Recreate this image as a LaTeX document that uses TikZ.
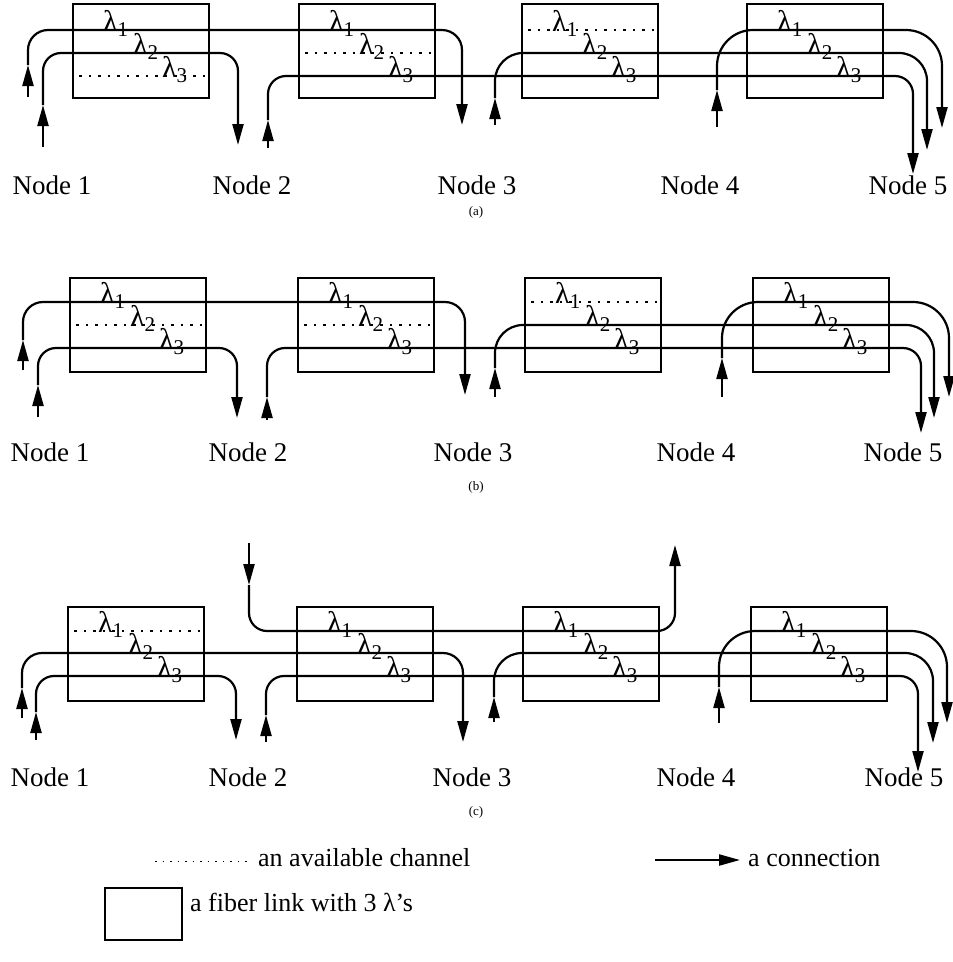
\documentclass[tikz,border=0pt]{standalone}
\usepackage{fontspec}
\setmainfont{Liberation Serif}
\usetikzlibrary{arrows.meta,calc}

\newcommand\wl[1]{λ\textsubscript{#1}}

\tikzset{
  link/.style={draw, line width=1.5pt, minimum width=136pt, minimum height=94pt, inner sep=0pt},
  ledig/.style={line width=1.5pt, dash pattern=on 2.5pt off 7pt},
  conn/.style={line width=2.2pt, rounded corners=#1, -{Triangle[length=21pt,width=11pt]}},
  conn/.default=20pt,
  nodetxt/.style={font=\fontsize{27}{30}\selectfont, inner sep=0pt},
  lam/.style={font=\fontsize{30}{32}\selectfont, inner sep=0pt, anchor=base west},
  captxt/.style={font=\fontsize{13}{15}\selectfont, inner sep=0pt},
  legtxt/.style={font=\fontsize{26}{28}\selectfont, inner sep=0pt, anchor=west},
}

\begin{document}
\begin{tikzpicture}[x=1pt,y=-1pt]
  \useasboundingbox (0,0) rectangle (953,962);

  % (a): nivåene for de tre bølgelengdene
  \coordinate (aL1) at (0,30);
  \coordinate (aL2) at (0,53);
  \coordinate (aL3) at (0,76);
  \foreach \i/\cx in {1/141,2/367,3/590,4/815}{
    \node[link] (a\i) at (\cx,51) {};
    \node[lam] (a\i-1) at ({\cx-38},31) {\wl{1}};
    \node[lam] (a\i-2) at ({\cx-8},54) {\wl{2}};
    \node[lam] (a\i-3) at ({\cx+21},77) {\wl{3}};
  }
  % ledige kanaler
  \draw[ledig] ($(a1.west |- aL3)+(7,0)$) -- (a1.east |- aL3);
  \draw[ledig] ($(a2.west |- aL2)+(7,0)$) -- (a2.east |- aL2);
  \draw[ledig] ($(a3.west |- aL1)+(7,0)$) -- (a3.east |- aL1);
  % forbindelser: start, pil, nivå, slutt, radius
  \foreach \k/\xs/\ys/\ym/\lv/\xe/\ye/\r in {
      1/28/97/65/1/462/125/20, 2/43/147/105/2/238/145/18,
      3/268/148/120/3/913/174/18, 4/495/125/98/2/927/150/28,
      5/717/127/90/1/942/128/36}{
    \coordinate (a\k s) at (\xs,\ys);
    \coordinate (a\k m) at (\xs,\ym);
    \coordinate (a\k e) at (\xe,\ye);
    \draw[conn] (a\k s) -- (a\k m);
    \draw[conn=\r pt] (a\k m) |- (a\k e |- aL\lv) -- (a\k e);
  }
  \foreach \n/\x in {1/52,2/252,3/477,4/700,5/908}
    \node[nodetxt] (aN\n) at (\x,185) {Node \n};
  \node[captxt] (acap) at (476,212) {(a)};

  % (b)
  \coordinate (bL1) at (0,302);
  \coordinate (bL2) at (0,325);
  \coordinate (bL3) at (0,348);
  \foreach \i/\cx in {1/138,2/366,3/593,4/821}{
    \node[link] (b\i) at (\cx,325) {};
    \node[lam] (b\i-1) at ({\cx-38},303) {\wl{1}};
    \node[lam] (b\i-2) at ({\cx-8},326) {\wl{2}};
    \node[lam] (b\i-3) at ({\cx+21},349) {\wl{3}};
  }
  \draw[ledig] ($(b1.west |- bL2)+(7,0)$) -- (b1.east |- bL2);
  \draw[ledig] ($(b2.west |- bL2)+(7,0)$) -- (b2.east |- bL2);
  \draw[ledig] ($(b3.west |- bL1)+(7,0)$) -- (b3.east |- bL1);
  \foreach \k/\xs/\ys/\ym/\lv/\xe/\ye/\r in {
      1/23/370/340/1/465/395/20, 2/38/417/385/3/237/418/18,
      3/267/420/397/3/921/433/18, 4/495/397/368/2/934/418/28,
      5/722/397/358/1/949/397/36}{
    \coordinate (b\k s) at (\xs,\ys);
    \coordinate (b\k m) at (\xs,\ym);
    \coordinate (b\k e) at (\xe,\ye);
    \draw[conn] (b\k s) -- (b\k m);
    \draw[conn=\r pt] (b\k m) |- (b\k e |- bL\lv) -- (b\k e);
  }
  \foreach \n/\x in {1/50,2/248,3/473,4/696,5/903}
    \node[nodetxt] (bN\n) at (\x,452) {Node \n};
  \node[captxt] (bcap) at (476,487) {(b)};

  % (c)
  \coordinate (cL1) at (0,631);
  \coordinate (cL2) at (0,653);
  \coordinate (cL3) at (0,676);
  \foreach \i/\cx in {1/136,2/365,3/591,4/819}{
    \node[link] (c\i) at (\cx,654) {};
    \node[lam] (c\i-1) at ({\cx-38},632) {\wl{1}};
    \node[lam] (c\i-2) at ({\cx-8},654) {\wl{2}};
    \node[lam] (c\i-3) at ({\cx+21},677) {\wl{3}};
  }
  \draw[ledig] ($(c1.west |- cL1)+(7,0)$) -- (c1.east |- cL1);
  \foreach \k/\xs/\ys/\ym/\lv/\xe/\ye/\r in {
      1/249/543/585/1/675/545/18, 2/22/718/688/2/463/742/20,
      3/36/740/712/3/236/740/18, 4/266/742/715/3/918/772/18,
      5/494/722/697/2/933/743/28, 6/719/723/687/1/947/723/36}{
    \coordinate (c\k s) at (\xs,\ys);
    \coordinate (c\k m) at (\xs,\ym);
    \coordinate (c\k e) at (\xe,\ye);
    \draw[conn] (c\k s) -- (c\k m);
    \draw[conn=\r pt] (c\k m) |- (c\k e |- cL\lv) -- (c\k e);
  }
  \foreach \n/\x in {1/50,2/248,3/472,4/696,5/904}
    \node[nodetxt] (cN\n) at (\x,777) {Node \n};
  \node[captxt] (ccap) at (476,812) {(c)};

  % tegnforklaring
  \coordinate (ld1) at (155,861);
  \coordinate (ld2) at (250,861);
  \draw[ledig, line width=1pt, dash pattern=on 1.5pt off 6pt] (ld1) -- (ld2);
  \node[legtxt] (ldt) at (258,858) {an available channel};
  \coordinate (la1) at (655,860);
  \coordinate (la2) at (740,860);
  \draw[conn] (la1) -- (la2);
  \node[legtxt] (lat) at (748,858) {a connection};
  \node[link, minimum width=77pt, minimum height=52pt] (lbox) at (143.5,914) {};
  \node[legtxt] (lbt) at (190,902) {a fiber link with 3 λ’s};
\end{tikzpicture}
\end{document}
